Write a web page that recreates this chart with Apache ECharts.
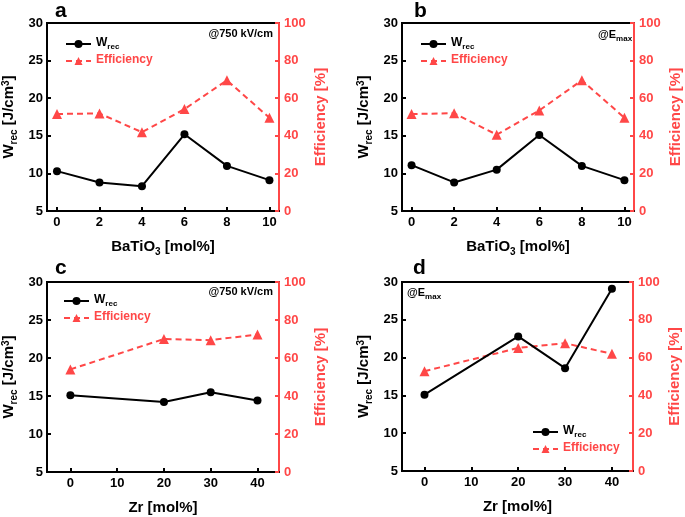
<!DOCTYPE html>
<html>
<head>
<meta charset="utf-8">
<script src="https://cdn.jsdelivr.net/npm/echarts@6/dist/echarts.min.js"></script>
<style>html,body{margin:0;padding:0;background:#fff}#c{width:685px;height:517px}</style>
</head>
<body>
<div id="c"></div>
<script>
// ---- data ----
const xA = [0, 2, 4, 6, 8, 10];
const wA = [10.3, 8.8, 8.3, 15.2, 11.0, 9.1];
const eA = [51.6, 51.9, 41.9, 54.2, 69.5, 49.6];
const xB = [0, 2, 4, 6, 8, 10];
const wB = [11.1, 8.8, 10.5, 15.1, 11.0, 9.1];
const eB = [51.6, 52.0, 40.6, 53.5, 69.5, 49.6];
const xC = [0, 20, 30, 40];
const wC = [15.1, 14.2, 15.5, 14.4];
const eC = [54.0, 70.0, 69.4, 72.4];
const xD = [0, 20, 30, 40];
const wD = [15.1, 22.8, 18.6, 29.1];
const eD = [52.8, 65.1, 67.6, 62.0];
const ticksBT = [0, 2, 4, 6, 8, 10];
const ticksZr = [0, 10, 20, 30, 40];
const leftTicks = [5, 10, 15, 20, 25, 30];
const rightTicks = [0, 20, 40, 60, 80, 100];

const RED = '#FF4747';
const FF = '"Liberation Sans", Arial, sans-serif';
const pair = (xs, ys) => xs.map((x, i) => [x, ys[i]]);

const panels = [
  {grid:{left:47, top:23, width:232, height:188}, x:xA, w:wA, e:eA, ticks:ticksBT, min:-0.47, max:10.45, xname:'{b|BaTiO}{s|3}{b| [mol%]}',
   legend:{left:65, top:37}},
  {grid:{left:402, top:23, width:232, height:188}, x:xB, w:wB, e:eB, ticks:ticksBT, min:-0.45, max:10.45, xname:'{b|BaTiO}{s|3}{b| [mol%]}',
   legend:{left:420, top:37}},
  {grid:{left:47, top:282, width:232, height:190}, x:xC, w:wC, e:eC, ticks:ticksZr, min:-5, max:44.6, xname:'{b|Zr [mol%]}',
   legend:{left:63, top:294}},
  {grid:{left:402, top:282, width:231, height:189}, x:xD, w:wD, e:eD, ticks:ticksZr, min:-4.8, max:44.5, xname:'{b|Zr [mol%]}',
   legend:{left:532, top:425}}
];

const nameRich = (color) => ({
  b: {fontSize: 15, fontWeight: 'bold', fontFamily: FF, color: color, verticalAlign: 'bottom', padding: [0,0,3,0]},
  s: {fontSize: 10, fontWeight: 'bold', fontFamily: FF, color: color, verticalAlign: 'bottom'},
  sup: {fontSize: 10, fontWeight: 'bold', fontFamily: FF, color: color, verticalAlign: 'top'}
});

const grids = [], xAxes = [], yAxes = [], series = [], legends = [];
panels.forEach((p, i) => {
  grids.push(Object.assign({show: true, borderColor: '#000', borderWidth: 2, backgroundColor: 'transparent'}, p.grid));
  xAxes.push({
    type: 'value', gridIndex: i, min: p.min, max: p.max,
    splitLine: {show: false},
    axisLine: {onZero: false, lineStyle: {color: '#000', width: 2}},
    axisTick: {inside: true, length: 4, customValues: p.ticks, lineStyle: {color: '#000', width: 2}},
    axisLabel: {customValues: p.ticks, color: '#000', fontSize: 13, fontWeight: 'bold', fontFamily: FF, margin: 5},
    name: p.xname, nameLocation: 'middle', nameGap: 28,
    nameTextStyle: {rich: nameRich('#000')}
  });
  yAxes.push({
    type: 'value', gridIndex: i, min: 5, max: 30, interval: 5, position: 'left',
    splitLine: {show: false},
    axisLine: {show: true, onZero: false, lineStyle: {color: '#000', width: 2}},
    axisTick: {show: true, inside: true, length: 4, lineStyle: {color: '#000', width: 2}},
    axisLabel: {color: '#000', fontSize: 13, fontWeight: 'bold', fontFamily: FF, margin: 4},
    name: '{b|W}{s|rec}{b| [J/cm}{sup|3}{b|]}', nameLocation: 'middle', nameGap: 28, nameRotate: 90,
    nameTextStyle: {rich: nameRich('#000')}
  });
  yAxes.push({
    type: 'value', gridIndex: i, min: 0, max: 100, interval: 20, position: 'right',
    splitLine: {show: false},
    axisLine: {show: true, onZero: false, lineStyle: {color: RED, width: 2}},
    axisTick: {show: true, inside: true, length: 4, lineStyle: {color: RED, width: 2}},
    axisLabel: {color: RED, fontSize: 13, fontWeight: 'bold', fontFamily: FF, margin: 5},
    name: '{b|Efficiency [%]}', nameLocation: 'middle', nameGap: 34, nameRotate: 90,
    nameTextStyle: {rich: nameRich(RED)}
  });
  series.push({
    name: 'Wrec', type: 'line', xAxisIndex: i, yAxisIndex: 2 * i, data: pair(p.x, p.w),
    symbol: 'circle', symbolSize: 8, itemStyle: {color: '#000'}, lineStyle: {color: '#000', width: 2}, z: 3
  });
  series.push({
    name: 'Efficiency', type: 'line', xAxisIndex: i, yAxisIndex: 2 * i + 1, data: pair(p.x, p.e),
    symbol: 'triangle', symbolSize: 10, itemStyle: {color: RED}, lineStyle: {color: RED, width: 2, type: [6, 4]}, z: 2
  });
  legends.push({
    orient: 'vertical', left: p.legend.left, top: p.legend.top, itemWidth: 25, itemHeight: 10, itemGap: 3, padding: 0,
    data: ['Wrec', 'Efficiency'], selectedMode: false,
    formatter: (n) => n === 'Wrec' ? '{w|W}{s|rec}' : '{e|Efficiency}',
    textStyle: {rich: {
      w: {fontSize: 12, fontWeight: 'bold', fontFamily: FF, color: '#000', verticalAlign: 'bottom', padding: [0,0,2,0]},
      s: {fontSize: 8, fontWeight: 'bold', fontFamily: FF, color: '#000', verticalAlign: 'bottom'},
      e: {fontSize: 12, fontWeight: 'bold', fontFamily: FF, color: RED, verticalAlign: 'bottom', padding: [0,0,2,0]}
    }}
  });
});

const letter = (t, x, y) => ({type: 'text', x: x, y: y, z: 10,
  style: {text: t, fontSize: 21, fontWeight: 'bold', fontFamily: FF, fill: '#000', align: 'left', verticalAlign: 'middle'}});
const annoRich = {
  b: {fontSize: 11, fontWeight: 'bold', fontFamily: FF, fill: '#000', verticalAlign: 'bottom', padding: [0,0,2,0]},
  s: {fontSize: 8, fontWeight: 'bold', fontFamily: FF, fill: '#000', verticalAlign: 'bottom'}
};
const anno = (t, x, y, align) => ({type: 'text', x: x, y: y, z: 10,
  style: {text: t, rich: annoRich, align: align, verticalAlign: 'middle'}});

const chart = echarts.init(document.getElementById('c'), null, {renderer: 'canvas'});
chart.setOption({
  backgroundColor: '#fff',
  animation: false,
  grid: grids, xAxis: xAxes, yAxis: yAxes, series: series, legend: legends,
  graphic: [
    letter('a', 55, 11), letter('b', 414, 11), letter('c', 55, 268), letter('d', 413, 268),
    anno('{b|@750 kV/cm}', 273, 35, 'right'),
    anno('{b|@E}{s|max}', 598, 36, 'left'),
    anno('{b|@750 kV/cm}', 273, 293, 'right'),
    anno('{b|@E}{s|max}', 407, 294, 'left')
  ]
});
</script>
</body>
</html>
